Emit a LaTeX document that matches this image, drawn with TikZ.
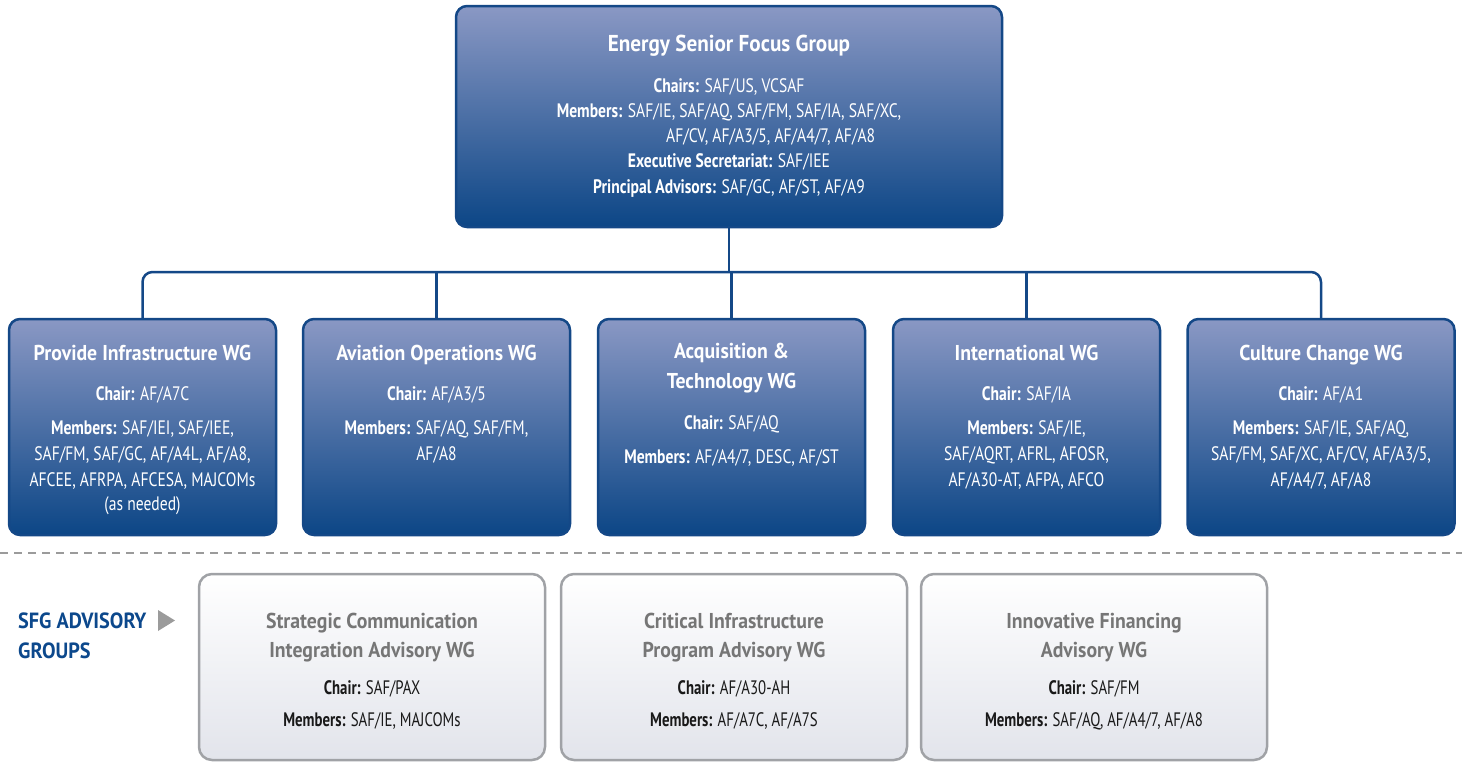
\documentclass[tikz,border=0pt]{standalone}
\usepackage{fontspec}
\setmainfont{PT Sans}[FakeStretch=0.80]
\newfontfamily\headfont{PT Sans}[FakeStretch=0.92]
\newfontfamily\advfont{PT Sans}[FakeStretch=0.76]
\definecolor{bblue}{RGB}{20,72,135}
\definecolor{btop}{RGB}{138,152,196}
\definecolor{bbot}{RGB}{12,70,134}
\definecolor{agray}{RGB}{160,162,166}
\definecolor{abot}{RGB}{226,228,235}
\definecolor{atitle}{RGB}{118,118,118}
\definecolor{lblue}{RGB}{12,72,140}
\definecolor{dgray}{RGB}{155,155,155}
\definecolor{ink}{RGB}{25,25,25}
\tikzset{
  bluebox/.style={draw=bblue, line width=2.5pt, rounded corners=11pt, top color=btop, bottom color=bbot, inner sep=0pt},
  topbox/.style={bluebox, minimum width=546pt, minimum height=221pt},
  wgbox/.style={bluebox, minimum width=267pt, minimum height=216pt},
  advbox/.style={draw=agray, line width=2.5pt, rounded corners=13pt, top color=white, bottom color=abot, minimum width=346pt, minimum height=186pt, inner sep=0pt},
  conn/.style={draw=bblue, line width=2.5pt},
  dashline/.style={draw=dgray, line width=1.5pt, dash pattern=on 8pt off 6pt},
  txt/.style={anchor=base, inner sep=0pt, text=white, font=\fontsize{19.5}{22}\selectfont},
  ttl/.style={txt, font=\headfont\bfseries\fontsize{21.5}{24}\selectfont},
  bigttl/.style={txt, font=\headfont\bfseries\fontsize{23}{26}\selectfont},
  atxt/.style={txt, text=ink, font=\advfont\fontsize{19.5}{22}\selectfont},
  attl/.style={txt, text=atitle, font=\headfont\bfseries\fontsize{21.5}{24}\selectfont},
  sfg/.style={anchor=base west, inner sep=0pt, text=lblue, font=\headfont\bfseries\fontsize{22}{24}\selectfont},
}
\begin{document}
\begin{tikzpicture}[x=1pt,y=-1pt]
\useasboundingbox (0,0) rectangle (1462,761);

% boxes
\node[topbox] (top) at (729,116.5) {};
\node[wgbox] (w1) at (142.5,427) {};
\node[wgbox] (w2) at (436.5,427) {};
\node[wgbox] (w3) at (731.5,427) {};
\node[wgbox] (w4) at (1026.5,427) {};
\node[wgbox] (w5) at (1321,427) {};
\node[advbox] (a1) at (372,667) {};
\node[advbox] (a2) at (734,667) {};
\node[advbox] (a3) at (1094,667) {};

% connectors
\coordinate (bus) at (0,272);
\draw[conn, rounded corners=10pt] (w1.north) -- (w1.north |- bus) -- (w5.north |- bus) -- (w5.north);
\draw[conn] (top.south) -- (top.south |- bus);
\draw[conn] (w2.north) -- (w2.north |- bus);
\draw[conn] (w3.north) -- (w3.north |- bus);
\draw[conn] (w4.north) -- (w4.north |- bus);

% dashed separator
\coordinate (dl) at (0,553);
\coordinate (dr) at (1462,553);
\draw[dashline] (dl) -- (dr);

% top box text
\node[bigttl] (t0) at (729,51) {Energy Senior Focus Group};
\node[txt] (t1) at (729,92) {\textbf{Chairs:} SAF/US, VCSAF};
\node[txt] (t2) at (729,117) {\textbf{Members:} SAF/IE, SAF/AQ, SAF/FM, SAF/IA, SAF/XC,};
\node[txt, anchor=base west] (t3) at (666,142) {AF/CV, AF/A3/5, AF/A4/7, AF/A8};
\node[txt] (t4) at (729,167) {\textbf{Executive Secretariat:} SAF/IEE};
\node[txt] (t5) at (729,193) {\textbf{Principal Advisors:} SAF/GC, AF/ST, AF/A9};

% WG 1
\node[ttl] (p0) at (142.5,360) {Provide Infrastructure WG};
\node[txt] (p1) at (142.5,400) {\textbf{Chair:} AF/A7C};
\node[txt] (p2) at (142.5,434) {\textbf{Members:} SAF/IEI, SAF/IEE,};
\node[txt] (p3) at (142.5,460) {SAF/FM, SAF/GC, AF/A4L, AF/A8,};
\node[txt] (p4) at (142.5,486) {AFCEE, AFRPA, AFCESA, MAJCOMs};
\node[txt] (p5) at (142.5,510) {(as needed)};

% WG 2
\node[ttl] (v0) at (436.5,360) {Aviation Operations WG};
\node[txt] (v1) at (436.5,400) {\textbf{Chair:} AF/A3/5};
\node[txt] (v2) at (436.5,434) {\textbf{Members:} SAF/AQ, SAF/FM,};
\node[txt] (v3) at (436.5,460) {AF/A8};

% WG 3
\node[ttl] (q0) at (731.5,358) {Acquisition \&};
\node[ttl] (q1) at (731.5,388) {Technology WG};
\node[txt] (q2) at (731.5,429) {\textbf{Chair:} SAF/AQ};
\node[txt] (q3) at (731.5,463) {\textbf{Members:} AF/A4/7, DESC, AF/ST};

% WG 4
\node[ttl] (n0) at (1026.5,360) {International WG};
\node[txt] (n1) at (1026.5,400) {\textbf{Chair:} SAF/IA};
\node[txt] (n2) at (1026.5,434) {\textbf{Members:} SAF/IE,};
\node[txt] (n3) at (1026.5,460) {SAF/AQRT, AFRL, AFOSR,};
\node[txt] (n4) at (1026.5,486) {AF/A30-AT, AFPA, AFCO};

% WG 5
\node[ttl] (c0) at (1321,360) {Culture Change WG};
\node[txt] (c1) at (1321,400) {\textbf{Chair:} AF/A1};
\node[txt] (c2) at (1321,434) {\textbf{Members:} SAF/IE, SAF/AQ,};
\node[txt] (c3) at (1321,460) {SAF/FM, SAF/XC, AF/CV, AF/A3/5,};
\node[txt] (c4) at (1321,486) {AF/A4/7, AF/A8};

% advisory label
\node[sfg] (s0) at (18,628) {SFG ADVISORY};
\node[sfg] (s1) at (18,658) {GROUPS};
\fill[dgray] (158,610) -- (175,620.5) -- (158,631) -- cycle;

% advisory boxes text
\node[attl] (x0) at (372,628) {Strategic Communication};
\node[attl] (x1) at (372,657) {Integration Advisory WG};
\node[atxt] (x2) at (372,694) {\textbf{Chair:} SAF/PAX};
\node[atxt] (x3) at (372,726) {\textbf{Members:} SAF/IE, MAJCOMs};

\node[attl] (y0) at (734,628) {Critical Infrastructure};
\node[attl] (y1) at (734,657) {Program Advisory WG};
\node[atxt] (y2) at (734,694) {\textbf{Chair:} AF/A30-AH};
\node[atxt] (y3) at (734,726) {\textbf{Members:} AF/A7C, AF/A7S};

\node[attl] (z0) at (1094,628) {Innovative Financing};
\node[attl] (z1) at (1094,657) {Advisory WG};
\node[atxt] (z2) at (1094,694) {\textbf{Chair:} SAF/FM};
\node[atxt] (z3) at (1094,726) {\textbf{Members:} SAF/AQ, AF/A4/7, AF/A8};
\end{tikzpicture}
\end{document}
